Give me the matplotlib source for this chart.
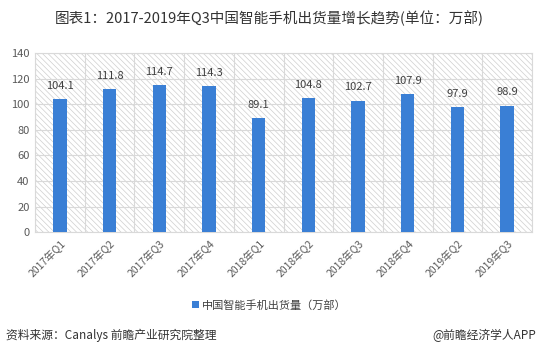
import matplotlib.pyplot as plt

plt.rcParams["font.family"] = ["Noto Sans CJK SC", "DejaVu Sans"]
plt.rcParams["hatch.color"] = "#cfcfcf"
plt.rcParams["hatch.linewidth"] = 0.5

quarters = ["2017年Q1", "2017年Q2", "2017年Q3", "2017年Q4", "2018年Q1",
            "2018年Q2", "2018年Q3", "2018年Q4", "2019年Q2", "2019年Q3"]
shipments = [104.1, 111.8, 114.7, 114.3, 89.1, 104.8, 102.7, 107.9, 97.9, 98.9]
y_ticks = [0, 20, 40, 60, 80, 100, 120, 140]

fig = plt.figure(figsize=(5.39, 3.61), dpi=100)
ax = fig.add_axes([0.065, 0.357, 0.922, 0.496])

ax.patch.set_facecolor("white")
ax.patch.set_hatch("\\\\\\\\\\\\")
ax.patch.set_edgecolor("#cfcfcf")

x = list(range(len(quarters)))
bars = ax.bar(x, shipments, width=0.27, color="#3a7fd5", zorder=3,
              label="中国智能手机出货量（万部）")
for xi, v in zip(x, shipments):
    ax.text(xi, v + 6.5, f"{v:.1f}", ha="center", va="bottom", fontsize=8,
            color="#404040", zorder=4)

ax.set_xlim(-0.5, len(quarters) - 0.5)
ax.set_ylim(0, 140)
ax.set_yticks(y_ticks)
ax.set_yticklabels([str(t) for t in y_ticks], fontsize=8, color="#595959")
ax.set_xticks(x)
ax.set_xticklabels(quarters, rotation=45, ha="right", rotation_mode="anchor",
                   fontsize=7.5, color="#595959")
ax.set_xticks([i - 0.5 for i in range(len(quarters) + 1)], minor=True)
ax.grid(True, axis="y", color="#d9d9d9", linewidth=0.8, zorder=1)
ax.grid(True, axis="x", which="minor", color="#d9d9d9", linewidth=0.8, zorder=1)
ax.tick_params(axis="both", which="both", length=0, pad=4)
for spine in ax.spines.values():
    spine.set_color("#d9d9d9")
    spine.set_linewidth(0.8)

fig.legend(handles=[bars], loc="center", bbox_to_anchor=(0.5, 0.155), frameon=False,
           fontsize=8, handlelength=0.6, handleheight=0.6, handletextpad=0.3,
           labelcolor="#404040")

fig.text(0.5, 0.95, "图表1：2017-2019年Q3中国智能手机出货量增长趋势(单位：万部)",
         ha="center", va="center", fontsize=10.5, color="#333333")
fig.text(0.012, 0.072, "资料来源：Canalys 前瞻产业研究院整理", ha="left", va="center",
         fontsize=8.5, color="#333333")
fig.text(0.995, 0.072, "@前瞻经济学人APP", ha="right", va="center",
         fontsize=8.5, color="#333333")

fig.savefig("out.png", dpi=100)
